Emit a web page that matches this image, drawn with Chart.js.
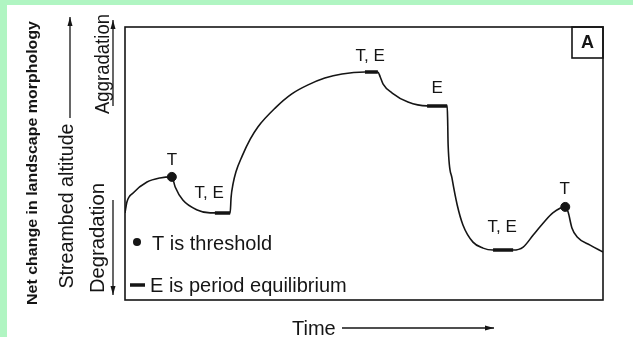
<!DOCTYPE html>
<html>
<head>
<meta charset="utf-8">
<script src="https://cdn.jsdelivr.net/npm/chart.js@4.4.1/dist/chart.umd.min.js"></script>
<style>
  html, body { margin: 0; padding: 0; overflow: hidden; background: #fff; }
  canvas { display: block; }
</style>
</head>
<body>
<canvas id="chart" width="633" height="337"></canvas>
<script>
// streambed curve (time 0-100, altitude 0-100, arbitrary units)
const time = [0, 0.4, 1.7, 4.6, 7.3, 9.8, 10.5, 12.1, 15.1, 17.8, 18.8, 22.0, 22.2, 22.6, 23.2, 24.5, 26.2, 27.8, 31.4, 34.9, 38.3, 41.8, 45.4, 50.2, 52.9, 53.4, 54.0, 55.9, 59.2, 63.2, 67.4, 67.5, 67.6, 68.4, 69.5, 70.7, 72.8, 74.9, 77.0, 81.2, 83.3, 85.4, 87.5, 89.5, 92.1, 92.7, 93.5, 94.6, 97.3, 100];
const altitude = [31.9, 35.9, 39.2, 43.2, 44.7, 45.1, 41.4, 36.6, 33.0, 31.9, 31.9, 31.9, 37.7, 42.5, 46.9, 52.7, 58.9, 63.4, 70.3, 75.5, 78.8, 81.3, 82.8, 83.5, 83.5, 81.7, 79.1, 75.8, 72.5, 71.1, 71.1, 65.9, 56.8, 44.7, 34.8, 27.5, 21.2, 19.0, 18.3, 18.3, 19.4, 23.8, 28.2, 31.9, 34.1, 32.2, 26.4, 23.1, 20.1, 17.6];

// thresholds (dots)
const thresholdTime = [9.8, 92.1];
const thresholdAlt = [45.1, 34.1];

// periods of equilibrium (thick bars)
const equilStart = [18.8, 50.2, 63.2, 77.0];
const equilEnd = [22.0, 52.9, 67.4, 81.2];
const equilAlt = [31.9, 83.5, 71.1, 18.3];

// point labels
const labelText = ['T', 'T, E', 'T, E', 'E', 'T, E', 'T'];
const labelTime = [9.8, 17.6, 51.3, 65.3, 78.9, 92.0];
const labelAlt = [51.3, 39.2, 89.4, 77.7, 26.7, 40.7];

const ink = '#151515';
const font = '"Liberation Sans", Arial, Helvetica, sans-serif';

const equilData = [];
equilStart.forEach(function(s, i){
  equilData.push({x: s, y: equilAlt[i]});
  equilData.push({x: equilEnd[i], y: equilAlt[i]});
  equilData.push({x: (equilEnd[i] + (equilStart[i + 1] || 100)) / 2, y: null});
});

function arrow(ctx, x1, y1, x2, y2){
  ctx.beginPath();
  ctx.moveTo(x1, y1);
  ctx.lineTo(x2, y2);
  ctx.stroke();
  const a = Math.atan2(y2 - y1, x2 - x1);
  ctx.beginPath();
  ctx.moveTo(x2, y2);
  ctx.lineTo(x2 - 9 * Math.cos(a) + 2.5 * Math.sin(a), y2 - 9 * Math.sin(a) - 2.5 * Math.cos(a));
  ctx.lineTo(x2 - 9 * Math.cos(a) - 2.5 * Math.sin(a), y2 - 9 * Math.sin(a) + 2.5 * Math.cos(a));
  ctx.closePath();
  ctx.fill();
}

// rotated (reading upward) text, centered on y, baseline at x, stretched to len
function sideText(ctx, text, x, y, f, len){
  ctx.save();
  ctx.translate(x, y);
  ctx.rotate(-Math.PI / 2);
  ctx.font = f;
  ctx.textAlign = 'center';
  ctx.textBaseline = 'alphabetic';
  if (len) ctx.scale(len / ctx.measureText(text).width, 1);
  ctx.fillText(text, 0, 0);
  ctx.restore();
}

const diagram = {
  id: 'diagram',
  beforeDraw(chart){
    const ctx = chart.ctx;
    ctx.save();
    ctx.fillStyle = '#ffffff';
    ctx.fillRect(0, 0, chart.width, chart.height);
    ctx.fillStyle = '#b0f5c2';
    ctx.fillRect(0, 0, chart.width, 5);
    ctx.fillRect(0, 0, 7, chart.height);
    ctx.restore();
  },
  afterDraw(chart){
    const ctx = chart.ctx;
    const area = chart.chartArea;
    const xs = chart.scales.x, ys = chart.scales.y;
    ctx.save();
    ctx.strokeStyle = ink;
    ctx.fillStyle = ink;

    // frame + "A" box
    ctx.lineWidth = 1.6;
    ctx.strokeRect(area.left, area.top, area.right - area.left, area.bottom - area.top);
    ctx.strokeRect(area.right - 31, area.top, 31, 31);
    ctx.font = 'bold 18px ' + font;
    ctx.textAlign = 'center';
    ctx.textBaseline = 'middle';
    ctx.fillText('A', area.right - 15.5, area.top + 16);

    // point labels
    ctx.font = '17px ' + font;
    labelText.forEach(function(t, i){
      ctx.fillText(t, xs.getPixelForValue(labelTime[i]), ys.getPixelForValue(labelAlt[i]));
    });

    // legend
    ctx.beginPath();
    ctx.arc(137, 242, 4, 0, Math.PI * 2);
    ctx.fill();
    ctx.lineWidth = 3.5;
    ctx.beginPath();
    ctx.moveTo(130, 285);
    ctx.lineTo(145, 285);
    ctx.stroke();
    ctx.font = '20px ' + font;
    ctx.textAlign = 'left';
    ctx.textBaseline = 'alphabetic';
    ctx.fillText('T is threshold', 152, 250);
    ctx.fillText('E is period equilibrium', 150, 292);

    // x axis title
    ctx.fillText('Time', 292, 335);
    ctx.lineWidth = 1.3;
    arrow(ctx, 342, 328, 494, 328);

    // y axis titles
    sideText(ctx, 'Net change in landscape morphology', 37, 163, 'bold 14px ' + font, 284);
    sideText(ctx, 'Streambed altitude', 73, 206, '20px ' + font, 165);
    sideText(ctx, 'Aggradation', 109, 64, '20px ' + font, 100);
    sideText(ctx, 'Degradation', 104, 238, '20px ' + font, 110);
    arrow(ctx, 70, 118, 70, 17);
    arrow(ctx, 113, 106, 113, 20);
    arrow(ctx, 113, 200, 113, 295);
    ctx.restore();
  }
};

new Chart(document.getElementById('chart'), {
  type: 'line',
  data: {
    datasets: [{
      data: time.map((t, i) => ({x: t, y: altitude[i]})),
      borderColor: ink,
      borderWidth: 1.6,
      pointRadius: 0,
      cubicInterpolationMode: 'monotone',
      fill: false
    }, {
      data: equilData,
      borderColor: ink,
      borderWidth: 3.5,
      pointRadius: 0,
      spanGaps: false,
      fill: false
    }, {
      data: thresholdTime.map((t, i) => ({x: t, y: thresholdAlt[i]})),
      showLine: false,
      pointRadius: 4.5,
      pointBackgroundColor: ink,
      pointBorderColor: ink
    }]
  },
  options: {
    responsive: false,
    animation: false,
    layout: {
      padding: {left: 125, top: 27, right: 30, bottom: 37}
    },
    plugins: {
      legend: { display: false },
      tooltip: { enabled: false }
    },
    scales: {
      x: { type: 'linear', min: 0, max: 100, display: false },
      y: { type: 'linear', min: 0, max: 100, display: false }
    }
  },
  plugins: [diagram]
});
</script>
</body>
</html>
